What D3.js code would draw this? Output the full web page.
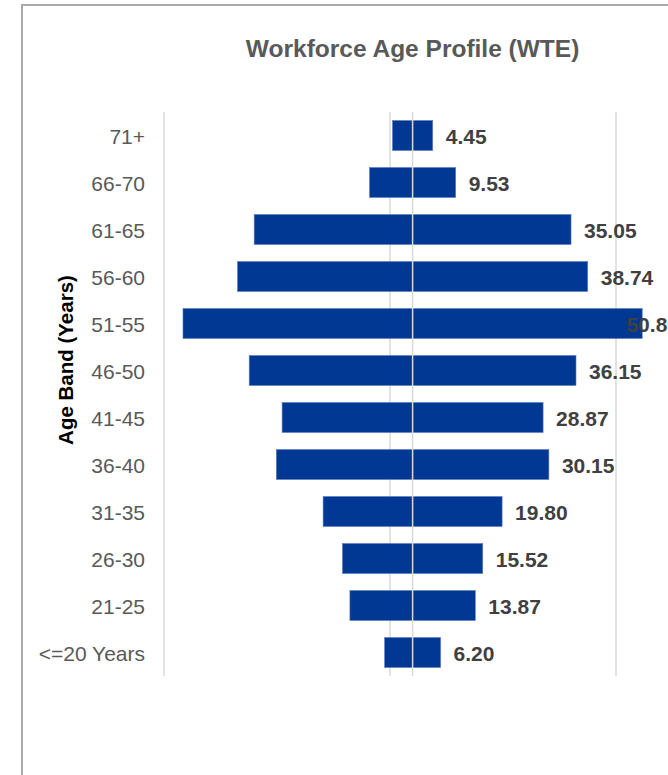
<!DOCTYPE html>
<html>
<head>
<meta charset="utf-8">
<script src="https://cdn.jsdelivr.net/npm/d3@7"></script>
<style>
  html, body { margin: 0; padding: 0; background: #fff; }
  svg { display: block; }
</style>
</head>
<body>
<div id="chart"></div>
<script>
// values
const categories = ['71+', '66-70', '61-65', '56-60', '51-55', '46-50', '41-45', '36-40', '31-35', '26-30', '21-25', '<=20 Years'];
const wte = [4.45, 9.53, 35.05, 38.74, 50.80, 36.15, 28.87, 30.15, 19.80, 15.52, 13.87, 6.20];
const gridTicks = [-55, -5, 45];
const title = 'Workforce Age Profile (WTE)';
const yTitle = 'Age Band (Years)';

const W = 668, H = 775;
const FONT = '"Liberation Sans", Arial, sans-serif';
const BLUE = '#003893';

const svg = d3.select('#chart').append('svg').attr('width', W).attr('height', H);

// chart area border (runs past the right and bottom edge, as in the crop)
svg.append('rect').attr('x', 22).attr('y', 5).attr('width', W + 20).attr('height', H + 20)
  .attr('fill', '#fff').attr('stroke', '#a9a9a9').attr('stroke-width', 2);

const x = d3.scaleLinear().domain([-55, 45]).range([164, 616]);
const y = d3.scaleBand().domain(categories).range([112, 676]).paddingInner(0.362).paddingOuter(0.181);
const rows = categories.map((c, i) => ({ c, v: wte[i] }));

// gridlines
svg.append('g').selectAll('line').data(gridTicks).join('line')
  .attr('x1', d => x(d)).attr('x2', d => x(d))
  .attr('y1', y.range()[0]).attr('y2', y.range()[1])
  .attr('stroke', '#d9d9d9').attr('stroke-width', 1.5);

// bars mirrored about zero
const bars = svg.append('g');
bars.selectAll('rect.left').data(rows).join('rect').attr('class', 'left')
  .attr('x', d => x(-d.v)).attr('width', d => x(0) - x(-d.v))
  .attr('y', d => y(d.c)).attr('height', y.bandwidth())
  .attr('fill', BLUE).attr('stroke', '#5a7cc0').attr('stroke-width', 0.6);
bars.selectAll('rect.right').data(rows).join('rect').attr('class', 'right')
  .attr('x', x(0)).attr('width', d => x(d.v) - x(0))
  .attr('y', d => y(d.c)).attr('height', y.bandwidth())
  .attr('fill', BLUE).attr('stroke', '#5a7cc0').attr('stroke-width', 0.6);

// vertical axis line at zero, over the bars
svg.append('line').attr('x1', x(0)).attr('x2', x(0))
  .attr('y1', y.range()[0]).attr('y2', y.range()[1])
  .attr('stroke', '#d9d9d9').attr('stroke-width', 1.5);

// category labels
svg.append('g').selectAll('text').data(rows).join('text')
  .attr('x', 145).attr('y', d => y(d.c) + y.bandwidth() / 2 + 8.5)
  .attr('text-anchor', 'end').attr('font-family', FONT).attr('font-size', 21).attr('fill', '#595959')
  .text(d => d.c);

// value labels, pushed back inside the chart area when they would run out
const labelLimit = 679;
svg.append('g').selectAll('text').data(rows).join('text')
  .attr('y', d => y(d.c) + y.bandwidth() / 2 + 8.5)
  .attr('font-family', FONT).attr('font-size', 21).attr('font-weight', 700).attr('fill', '#404040')
  .text(d => d.v.toFixed(2))
  .attr('x', function (d) {
    const w = this.getComputedTextLength();
    return Math.min(x(d.v) + 13, labelLimit - w);
  });

// title
svg.append('text').attr('x', x(0)).attr('y', 57).attr('text-anchor', 'middle')
  .attr('font-family', FONT).attr('font-size', 24.5).attr('font-weight', 700).attr('fill', '#595959')
  .text(title);

// axis title
svg.append('text').attr('transform', 'translate(73,360) rotate(-90)').attr('text-anchor', 'middle')
  .attr('font-family', FONT).attr('font-size', 20.5).attr('font-weight', 700).attr('fill', '#000')
  .text(yTitle);
</script>
</body>
</html>
